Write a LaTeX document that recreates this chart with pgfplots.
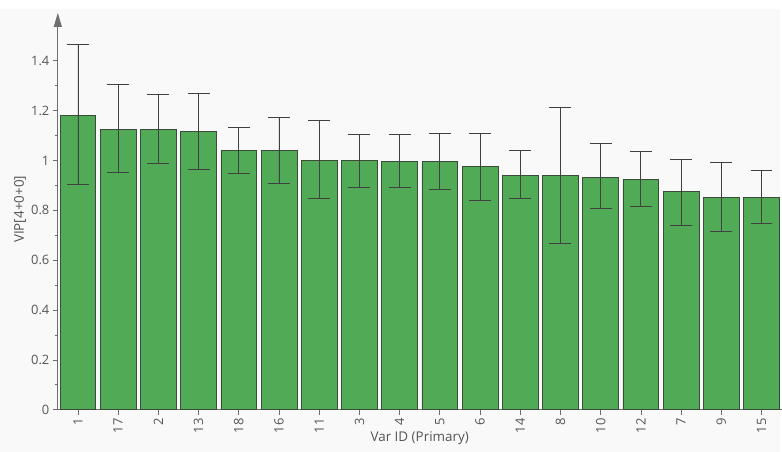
\documentclass[border=0pt]{standalone}
\usepackage{pgfplots}
\pgfplotsset{compat=1.18}
\usepackage{pgfplotstable}
\usepackage{fontspec}
\setmainfont{Open Sans}
\usetikzlibrary{arrows.meta}
\definecolor{barfill}{RGB}{80,170,86}
\definecolor{bardraw}{RGB}{60,75,60}
\definecolor{txt}{RGB}{85,85,85}
\definecolor{axln}{RGB}{110,110,110}
\definecolor{bg}{RGB}{249,249,249}
\pgfplotstableread{
x y ep em
0  1.180 0.287 0.276
1  1.124 0.180 0.171
2  1.124 0.140 0.136
3  1.115 0.155 0.152
4  1.039 0.092 0.090
5  1.039 0.132 0.130
6  0.999 0.160 0.151
7  0.999 0.104 0.106
8  0.995 0.109 0.102
9  0.995 0.114 0.112
10 0.975 0.134 0.136
11 0.940 0.100 0.092
12 0.940 0.275 0.273
13 0.933 0.136 0.125
14 0.924 0.111 0.107
15 0.875 0.129 0.134
16 0.853 0.140 0.137
17 0.853 0.106 0.106
}\vip
\begin{document}
\begin{tikzpicture}
\fill[bg] (-58bp,-42bp) rectangle (724bp,402bp);
\begin{axis}[
  at={(0,0)}, anchor=south west,
  scale only axis,
  width=726bp, height=398bp,
  xmin=-0.5, xmax=17.5,
  ymin=0, ymax=1.592,
  axis x line*=bottom,
  axis y line*=left,
  y axis line style={axln, line width=0.8bp, -{Triangle[width=8bp,length=14bp]}},
  x axis line style={axln, line width=0.8bp, -},
  ytick={0,0.2,...,1.4},
  minor ytick={0.1,0.3,...,1.3},
  xtick=data,
  xticklabels={1,17,2,13,18,16,11,3,4,5,6,14,8,10,12,7,9,15},
  tick align=outside,
  major tick length=5bp,
  minor tick length=3bp,
  tick style={axln, line width=0.7bp},
  every tick/.style={axln, line width=0.7bp},
  tick label style={font=\fontsize{13}{15}\selectfont, text=txt},
  /pgf/number format/assume math mode=true,
  xticklabel style={rotate=90, anchor=east},
  yticklabel style={anchor=east},
  xlabel={Var ID (Primary)},
  ylabel={VIP[4+0+0]},
  label style={font=\fontsize{13.5}{15}\selectfont, text=txt},
  xlabel style={at={(axis description cs:0.5,0)}, anchor=center, yshift=-29bp},
  ylabel style={at={(axis description cs:-0.052,0.505)}, anchor=center},
  clip=false,
]
\addplot[
  ybar, bar width=0.89, fill=barfill, draw=bardraw, line width=0.7bp,
  error bars/.cd, y dir=both, y explicit,
  error bar style={black!75, line width=0.8bp},
  error mark options={black!75, line width=0.8bp, mark size=11bp, rotate=90},
] table[x=x, y=y, y error plus=ep, y error minus=em] {\vip};
\end{axis}
\path[use as bounding box] (-58bp,-42bp) rectangle (724bp,411bp);
\end{tikzpicture}
\end{document}
